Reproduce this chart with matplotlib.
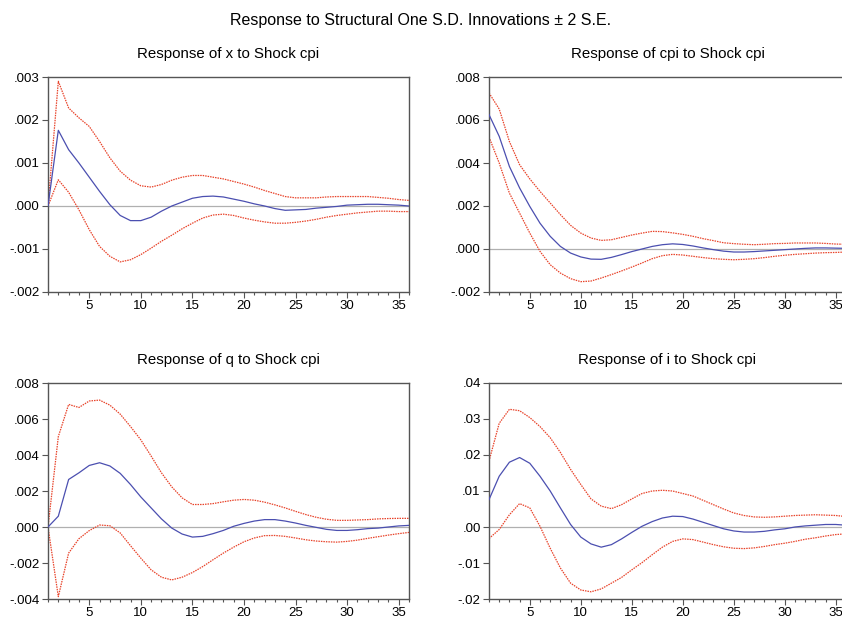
import matplotlib
matplotlib.use("Agg")
import matplotlib.pyplot as plt
import numpy as np
from matplotlib.ticker import MultipleLocator, FuncFormatter

plt.rcParams['font.family'] = ['Liberation Sans', 'DejaVu Sans']

periods = list(range(1, 37))

x_resp = [0.0, 1.76, 1.31, 1.0, 0.67, 0.34, 0.03, -0.22, -0.34, -0.34, -0.26, -0.12, 0.0, 0.09, 0.18, 0.22,
          0.23, 0.21, 0.16, 0.11, 0.05, 0.0, -0.06, -0.1, -0.09, -0.08, -0.05, -0.03, -0.01, 0.02, 0.03,
          0.04, 0.04, 0.03, 0.02, 0.0]
x_upper = [0.0, 2.9, 2.28, 2.05, 1.85, 1.5, 1.12, 0.81, 0.6, 0.47, 0.44, 0.5, 0.6, 0.67, 0.71, 0.71,
           0.67, 0.63, 0.57, 0.51, 0.44, 0.36, 0.29, 0.22, 0.19, 0.19, 0.19, 0.21, 0.22, 0.22, 0.22,
           0.22, 0.2, 0.18, 0.15, 0.13]
x_lower = [0.0, 0.61, 0.32, -0.09, -0.55, -0.94, -1.17, -1.3, -1.25, -1.13, -0.98, -0.82, -0.68, -0.53,
           -0.4, -0.28, -0.21, -0.19, -0.22, -0.28, -0.33, -0.37, -0.4, -0.4, -0.38, -0.35, -0.31, -0.26,
           -0.22, -0.19, -0.16, -0.14, -0.12, -0.12, -0.13, -0.13]

cpi_resp = [6.25, 5.24, 3.84, 2.84, 1.98, 1.2, 0.59, 0.12, -0.19, -0.37, -0.47, -0.48, -0.39, -0.26,
            -0.12, 0.0, 0.12, 0.2, 0.24, 0.21, 0.14, 0.05, -0.03, -0.1, -0.14, -0.14, -0.12, -0.09,
            -0.06, -0.03, 0.0, 0.03, 0.05, 0.05, 0.04, 0.03]
cpi_upper = [7.26, 6.51, 5.0, 3.92, 3.26, 2.68, 2.14, 1.6, 1.1, 0.74, 0.51, 0.4, 0.43, 0.54, 0.65, 0.74,
             0.82, 0.81, 0.75, 0.68, 0.59, 0.48, 0.39, 0.29, 0.25, 0.22, 0.2, 0.22, 0.25, 0.26, 0.28,
             0.28, 0.28, 0.26, 0.23, 0.22]
cpi_lower = [5.21, 4.0, 2.6, 1.67, 0.74, -0.11, -0.73, -1.12, -1.38, -1.52, -1.49, -1.35, -1.19, -1.02,
             -0.84, -0.65, -0.45, -0.31, -0.25, -0.28, -0.34, -0.4, -0.45, -0.48, -0.5, -0.48, -0.45,
             -0.4, -0.34, -0.29, -0.25, -0.22, -0.19, -0.17, -0.16, -0.14]

q_resp = [0.0, 0.6, 2.64, 3.01, 3.42, 3.57, 3.39, 2.98, 2.36, 1.67, 1.06, 0.45, -0.06, -0.39, -0.56,
          -0.52, -0.37, -0.19, 0.04, 0.2, 0.33, 0.41, 0.41, 0.33, 0.22, 0.09, -0.02, -0.13, -0.19, -0.19,
          -0.15, -0.09, -0.06, 0.0, 0.06, 0.09]
q_upper = [0.0, 5.02, 6.81, 6.64, 7.0, 7.05, 6.77, 6.27, 5.58, 4.84, 3.94, 3.01, 2.23, 1.62, 1.25, 1.25,
           1.3, 1.4, 1.49, 1.53, 1.49, 1.38, 1.23, 1.06, 0.87, 0.69, 0.54, 0.43, 0.37, 0.37, 0.39, 0.41,
           0.45, 0.47, 0.48, 0.48]
q_lower = [0.0, -3.87, -1.45, -0.65, -0.2, 0.11, 0.07, -0.33, -1.04, -1.73, -2.38, -2.79, -2.94, -2.79,
           -2.53, -2.2, -1.82, -1.45, -1.12, -0.82, -0.61, -0.48, -0.47, -0.52, -0.61, -0.71, -0.78,
           -0.82, -0.84, -0.8, -0.73, -0.63, -0.54, -0.45, -0.37, -0.3]

i_resp = [0.76, 1.41, 1.8, 1.93, 1.77, 1.41, 1.0, 0.53, 0.07, -0.28, -0.47, -0.56, -0.49, -0.33, -0.15,
          0.02, 0.15, 0.25, 0.3, 0.29, 0.22, 0.13, 0.04, -0.05, -0.11, -0.14, -0.14, -0.12, -0.08,
          -0.05, 0.0, 0.03, 0.05, 0.07, 0.07, 0.05]
i_upper = [1.83, 2.88, 3.27, 3.23, 3.04, 2.79, 2.48, 2.07, 1.6, 1.18, 0.78, 0.58, 0.51, 0.62, 0.78, 0.93,
           1.0, 1.02, 1.0, 0.93, 0.86, 0.74, 0.62, 0.5, 0.39, 0.32, 0.28, 0.27, 0.28, 0.3, 0.32, 0.33,
           0.34, 0.33, 0.32, 0.29]
i_lower = [-0.32, -0.07, 0.34, 0.65, 0.53, 0.02, -0.59, -1.14, -1.56, -1.75, -1.8, -1.72, -1.56, -1.4,
           -1.19, -0.99, -0.77, -0.56, -0.4, -0.33, -0.35, -0.42, -0.49, -0.55, -0.59, -0.6, -0.58,
           -0.54, -0.49, -0.45, -0.4, -0.34, -0.3, -0.25, -0.21, -0.19]

titles = ["Response of x to Shock cpi", "Response of cpi to Shock cpi",
          "Response of q to Shock cpi", "Response of i to Shock cpi"]
series = [(x_resp, x_upper, x_lower, 1e-3), (cpi_resp, cpi_upper, cpi_lower, 1e-3),
          (q_resp, q_upper, q_lower, 1e-3), (i_resp, i_upper, i_lower, 1e-2)]
ylims = [(-0.002, 0.003, 0.001, 3), (-0.002, 0.008, 0.002, 3),
         (-0.004, 0.008, 0.002, 3), (-0.02, 0.04, 0.01, 2)]

W, H = 842, 618
fig = plt.figure(figsize=(W / 100, H / 100), dpi=100)

boxes = [(48, 77, 361, 215), (489, 77, 357, 215), (48, 383, 361, 216), (489, 383, 357, 216)]

def fmt_factory(dec):
    def f(v, pos):
        s = f"{v:.{dec}f}"
        s = s.replace("0.", ".", 1)
        if s.startswith("-") and float(s) == 0:
            s = s[1:]
        return s
    return f

spine_col = "#555555"
for ax_i, (box, ttl, ser, yl) in enumerate(zip(boxes, titles, series, ylims)):
    l, t, w, h = box
    ax = fig.add_axes([l / W, 1 - (t + h) / H, w / W, h / H])
    resp, up, lo, scale = ser
    p = np.array(periods)
    ax.axhline(0, color="#b0b0b0", lw=0.9, zorder=1)
    ax.plot(p, np.array(up) * scale, color="#e8432a", lw=0.9, ls=(0, (1.2, 0.8)), zorder=2)
    ax.plot(p, np.array(lo) * scale, color="#e8432a", lw=0.9, ls=(0, (1.2, 0.8)), zorder=2)
    ax.plot(p, np.array(resp) * scale, color="#4b4fb0", lw=0.9, zorder=3)
    ax.set_xlim(1, 36)
    ax.set_ylim(yl[0], yl[1])
    ax.yaxis.set_major_locator(MultipleLocator(yl[2]))
    ax.yaxis.set_major_formatter(FuncFormatter(fmt_factory(yl[3])))
    ax.xaxis.set_major_locator(MultipleLocator(5))
    ax.xaxis.set_minor_locator(MultipleLocator(1))
    ax.tick_params(axis="both", which="major", direction="out", length=4, width=0.8,
                   color=spine_col, labelsize=9.5, pad=2)
    ax.tick_params(axis="x", which="minor", direction="out", length=2, width=0.8, color=spine_col)
    for s in ax.spines.values():
        s.set_color(spine_col)
        s.set_linewidth(1.0)
    ax.set_title(ttl, fontsize=10.8, pad=14)

fig.text(0.5, 1 - 20 / H, "Response to Structural One S.D. Innovations \u00b1 2 S.E.",
         ha="center", va="center", fontsize=11.5)

fig.savefig("out.png", dpi=100)
